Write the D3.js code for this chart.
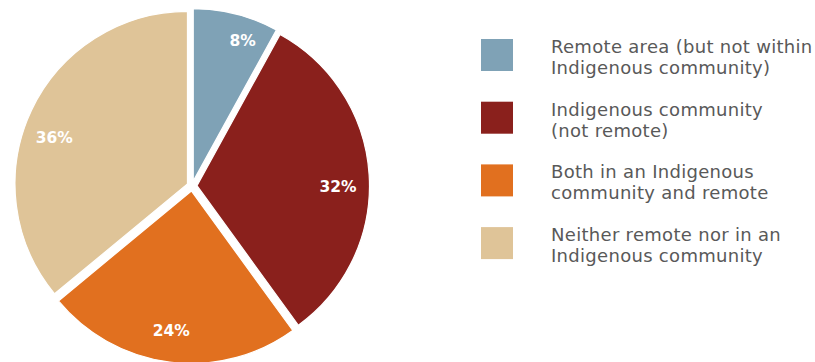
<!DOCTYPE html>
<html>
<head>
<meta charset="utf-8">
<script src="https://cdn.jsdelivr.net/npm/d3@7"></script>
<style>
  html, body { margin: 0; padding: 0; background: #ffffff; }
  svg { display: block; }
</style>
</head>
<body>
<svg id="chart" width="815" height="362"></svg>
<script>
// Share of locations, in percent, by remoteness / Indigenous community status
const categories = [
  ["Remote area (but not within", "Indigenous community)"],
  ["Indigenous community", "(not remote)"],
  ["Both in an Indigenous", "community and remote"],
  ["Neither remote nor in an", "Indigenous community"]
];
const values = [8, 32, 24, 36];
const colors = ["#7fa2b6", "#8a201c", "#e1701f", "#dfc498"];

const svg = d3.select("#chart");

// Pie geometry
const cx = 192, cy = 186, R = 172.5, explode = 5;
// Small angular nudges (degrees) that keep each percentage label clear of the slice edges
const labelNudge = [5, 4, 1, -6];
const labelR = 141;

const pie = d3.pie().sort(null).value(d => d.value);
const arc = d3.arc().innerRadius(0).outerRadius(R);

const data = values.map((v, i) => ({ value: v, label: categories[i], color: colors[i], nudge: labelNudge[i] }));
const arcs = pie(data);

const g = svg.append("g").attr("transform", `translate(${cx},${cy})`);

const mid = d => (d.startAngle + d.endAngle) / 2;

const slice = g.selectAll("g.slice")
  .data(arcs)
  .join("g")
  .attr("class", "slice")
  .attr("transform", d => `translate(${Math.sin(mid(d)) * explode},${-Math.cos(mid(d)) * explode})`);

slice.append("path")
  .attr("d", arc)
  .attr("fill", d => d.data.color)
  .attr("stroke", "#ffffff")
  .attr("stroke-width", 1.2)
  .attr("stroke-linejoin", "miter");

// Percentage labels inside each slice
const labelAngle = d => mid(d) + d.data.nudge * Math.PI / 180;
const labelDist = d => labelR + (d.data.value < 10 ? 8 : 0);
slice.append("text")
  .attr("x", d => Math.sin(labelAngle(d)) * labelDist(d))
  .attr("y", d => -Math.cos(labelAngle(d)) * labelDist(d))
  .attr("text-anchor", "middle")
  .attr("dominant-baseline", "central")
  .attr("fill", "#ffffff")
  .attr("font-family", "'DejaVu Sans', sans-serif")
  .attr("font-weight", "bold")
  .attr("font-size", 15.5)
  .text(d => d.data.value + "%");

// Legend
const legendX = 481, legendY = 39, legendStep = 62.7, sw = 32;
const legend = svg.append("g")
  .selectAll("g.item")
  .data(data)
  .join("g")
  .attr("class", "item")
  .attr("transform", (d, i) => `translate(${legendX},${legendY + i * legendStep})`);

legend.append("rect")
  .attr("width", sw)
  .attr("height", sw)
  .attr("fill", d => d.color);

legend.append("text")
  .attr("x", 70)
  .attr("y", 14)
  .attr("fill", "#595959")
  .attr("font-family", "'DejaVu Sans', sans-serif")
  .attr("font-size", 18)
  .attr("letter-spacing", 0.3)
  .selectAll("tspan")
  .data(d => d.label)
  .join("tspan")
  .attr("x", 70)
  .attr("dy", (d, i) => i === 0 ? 0 : 21)
  .text(d => d);
</script>
</body>
</html>
